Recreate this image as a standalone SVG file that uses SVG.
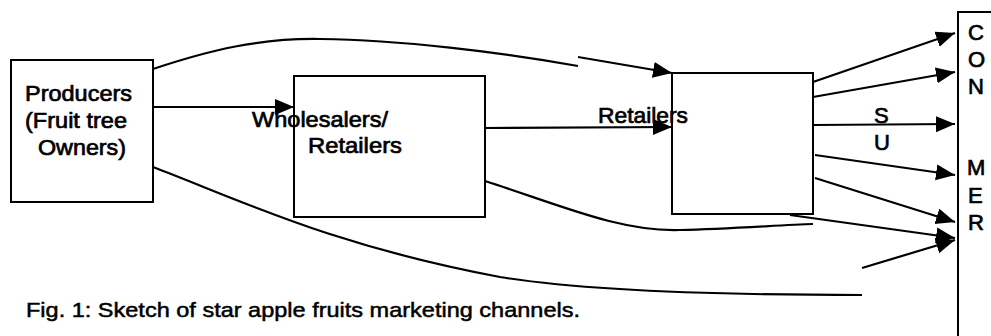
<svg xmlns="http://www.w3.org/2000/svg" width="991" height="336" viewBox="0 0 991 336">
<style>
  .box { fill: none; stroke: #000; stroke-width: 2; }
  .ln { fill: none; stroke: #000; stroke-width: 2.2; }
  .t { font-family: "Liberation Sans", Arial, sans-serif; font-size: 22px; fill: #000; stroke: #000; stroke-width: 0.7; }
  .cap { font-family: "Liberation Sans", Arial, sans-serif; font-size: 21px; fill: #000; stroke: #000; stroke-width: 0.5; }
</style>
<defs>
  <marker id="ah" markerUnits="userSpaceOnUse" markerWidth="22" markerHeight="18" refX="19" refY="8" orient="auto">
    <path d="M0,0 L19,8 L0,16 z" fill="#000"/>
  </marker>
</defs>
<rect width="991" height="336" fill="#fff"/>

<g id="connectors">
  <line class="ln" x1="153" y1="107" x2="294" y2="107" marker-end="url(#ah)"/>
  <path class="ln" d="M153,69 C210,50 260,38 320,39 C400,40 500,52 578,66"/>
  <line class="ln" x1="578" y1="57" x2="672" y2="73" marker-end="url(#ah)"/>
  <line class="ln" x1="485" y1="128" x2="672" y2="127" marker-end="url(#ah)"/>
  <path class="ln" d="M485,181 C560,205 620,232 680,230 C730,229 780,225 813,224"/>
  <path class="ln" d="M153,167 C240,200 330,245 500,277 C580,290 700,295 862,295"/>
  <line class="ln" x1="813" y1="82" x2="955" y2="33" marker-end="url(#ah)"/>
  <line class="ln" x1="813" y1="97" x2="955" y2="72" marker-end="url(#ah)"/>
  <line class="ln" x1="813" y1="125" x2="955" y2="124" marker-end="url(#ah)"/>
  <line class="ln" x1="815" y1="155" x2="955" y2="175" marker-end="url(#ah)"/>
  <line class="ln" x1="815" y1="178" x2="955" y2="222" marker-end="url(#ah)"/>
  <line class="ln" x1="790" y1="215" x2="955" y2="238" marker-end="url(#ah)"/>
  <line class="ln" x1="862" y1="268" x2="955" y2="240" marker-end="url(#ah)"/>
</g>

<g id="producers">
  <rect class="box" x="11" y="60" width="142" height="142"/>
  <text class="t" x="25" y="101" textLength="107" lengthAdjust="spacingAndGlyphs">Producers</text>
  <text class="t" x="25" y="128" textLength="102" lengthAdjust="spacingAndGlyphs">(Fruit tree</text>
  <text class="t" x="38" y="155" textLength="88" lengthAdjust="spacingAndGlyphs">Owners)</text>
</g>

<g id="wholesalers">
  <rect class="box" x="294" y="76" width="191" height="141"/>
  <text class="t" x="252" y="127" textLength="136" lengthAdjust="spacingAndGlyphs">Wholesalers/</text>
  <text class="t" x="308" y="153" textLength="94" lengthAdjust="spacingAndGlyphs">Retailers</text>
</g>

<g id="retailers">
  <rect class="box" x="672" y="73" width="141" height="141"/>
  <text class="t" x="598" y="123" textLength="90" lengthAdjust="spacingAndGlyphs">Retailers</text>
</g>

<g id="consumer">
  <rect class="box" x="958" y="12" width="60" height="340"/>
  <text class="t" x="968" y="40">C</text>
  <text class="t" x="968" y="67">O</text>
  <text class="t" x="968" y="94">N</text>
  <text class="t" x="874" y="123">S</text>
  <text class="t" x="874" y="150">U</text>
  <text class="t" x="967" y="175">M</text>
  <text class="t" x="968" y="203">E</text>
  <text class="t" x="968" y="230">R</text>
</g>

<text class="cap" x="26" y="317" textLength="554" lengthAdjust="spacingAndGlyphs">Fig. 1: Sketch of star apple fruits marketing channels.</text>
</svg>
